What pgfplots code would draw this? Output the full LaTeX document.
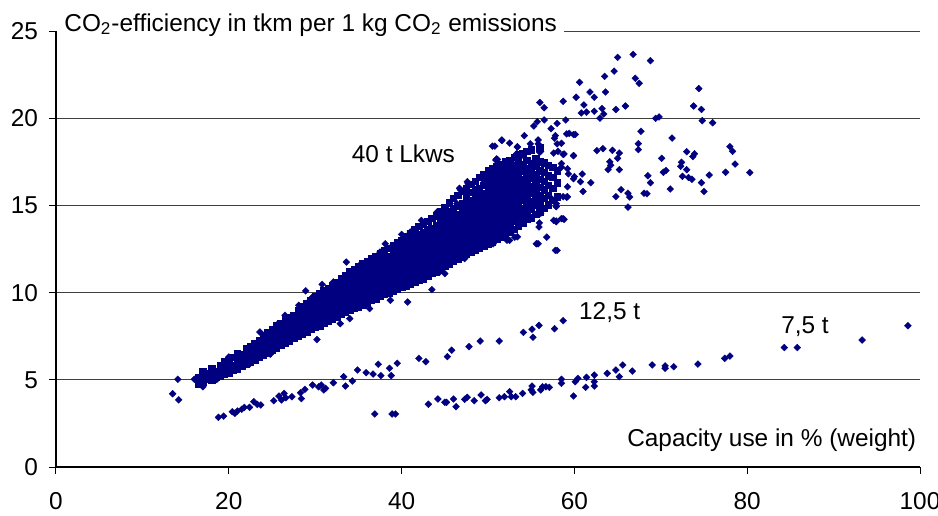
\documentclass[border=0pt]{standalone}
\usepackage{pgfplots}
\pgfplotsset{compat=1.18}
\usepackage{fontspec}
\setmainfont{Liberation Sans}
\definecolor{navy}{RGB}{0,0,128}
\pgfplotsset{pt/.style={only marks, mark=square*, mark size=1.2pt,
    mark options={rotate=45, fill=navy, draw=navy, line width=0.2pt}}}
\begin{document}
\begin{tikzpicture}[font=\fontsize{12.2}{14}\selectfont]
\begin{axis}[
    at={(0,0)}, anchor=south west,
    scale only axis, width=432pt, height=218pt,
    xmin=0, xmax=100, ymin=0, ymax=25,
    xtick={0,20,...,100}, ytick={0,5,...,25},
    axis lines=left, axis line style={-, line width=0.6pt},
    tick align=outside, major tick length=3.5pt,
    tick style={black, line width=0.5pt},
    ymajorgrids, grid style={black!75, line width=0.5pt},
    /pgf/number format/assume math mode=true,
    ticklabel style={font=\fontsize{12.2}{14}\selectfont},
    xticklabel style={yshift=-5.5pt},
    yticklabel style={xshift=-2pt},
    clip mode=individual,
]

% 40 t trucks, dense core, read column by column
\addplot[only marks, mark=square*, mark size=1.6pt,
    mark options={fill=navy, draw=navy, line width=0.2pt}] coordinates {
(16.5,4.75)(16.5,5.15)
(17,4.9)(17,5.3)(17,5.5)
(17.5,5.05)(17.5,5.35)
(18,5.0)(18,5.3)(18,5.65)
(18.5,5.15)(18.5,5.5)
(19,5.2)(19,5.55)(19,5.85)
(19.5,5.35)(19.5,5.7)(19.5,6.05)
(20,5.4)(20,5.75)(20,6.1)
(20.5,5.55)(20.5,5.85)(20.5,6.3)
(21,5.6)(21,5.95)(21,6.25)(21,6.5)
(21.5,5.8)(21.5,6.1)(21.5,6.45)
(22,5.9)(22,6.2)(22,6.5)(22,6.8)
(22.5,6.0)(22.5,6.35)(22.5,6.65)(22.5,6.9)
(23,6.15)(23,6.45)(23,6.8)(23,7.1)
(23.5,6.3)(23.5,6.6)(23.5,6.95)(23.5,7.25)
(24,6.4)(24,6.75)(24,7.05)(24,7.35)(24,7.55)
(24.5,6.55)(24.5,6.85)(24.5,7.2)(24.5,7.5)(24.5,7.7)
(25,6.7)(25,7.0)(25,7.3)(25,7.65)(25,7.9)
(25.5,6.85)(25.5,7.15)(25.5,7.45)(25.5,7.8)(25.5,8.1)
(26,7.0)(26,7.3)(26,7.6)(26,7.95)(26,8.25)
(26.5,7.1)(26.5,7.45)(26.5,7.75)(26.5,8.1)(26.5,8.45)
(27,7.25)(27,7.55)(27,7.9)(27,8.2)(27,8.55)
(27.5,7.4)(27.5,7.7)(27.5,8.0)(27.5,8.35)(27.5,8.7)
(28,7.5)(28,7.85)(28,8.15)(28,8.5)(28,8.8)(28,9.0)
(28.5,7.6)(28.5,7.95)(28.5,8.3)(28.5,8.6)(28.5,8.95)(28.5,9.2)
(29,7.75)(29,8.05)(29,8.4)(29,8.75)(29,9.05)(29,9.4)
(29.5,7.9)(29.5,8.2)(29.5,8.55)(29.5,8.85)(29.5,9.2)(29.5,9.55)
(30,8.0)(30,8.35)(30,8.65)(30,9.0)(30,9.3)(30,9.65)(30,9.8)
(30.5,8.1)(30.5,8.45)(30.5,8.8)(30.5,9.1)(30.5,9.45)(30.5,9.75)(30.5,9.95)
(31,8.25)(31,8.55)(31,8.9)(31,9.25)(31,9.55)(31,9.9)(31,10.1)
(31.5,8.4)(31.5,8.7)(31.5,9.05)(31.5,9.35)(31.5,9.7)(31.5,10.0)(31.5,10.25)
(32,8.5)(32,8.85)(32,9.15)(32,9.5)(32,9.8)(32,10.15)(32,10.4)
(32.5,8.6)(32.5,8.95)(32.5,9.3)(32.5,9.6)(32.5,9.95)(32.5,10.3)(32.5,10.6)
(33,8.75)(33,9.1)(33,9.4)(33,9.75)(33,10.1)(33,10.4)(33,10.8)
(33.5,8.9)(33.5,9.2)(33.5,9.55)(33.5,9.9)(33.5,10.2)(33.5,10.55)(33.5,10.85)(33.5,11.0)
(34,9.0)(34,9.35)(34,9.7)(34,10.0)(34,10.35)(34,10.7)(34,11.0)(34,11.2)
(34.5,9.1)(34.5,9.45)(34.5,9.8)(34.5,10.15)(34.5,10.45)(34.5,10.8)(34.5,11.1)(34.5,11.35)
(35,9.2)(35,9.55)(35,9.9)(35,10.25)(35,10.6)(35,10.9)(35,11.25)(35,11.5)
(35.5,9.3)(35.5,9.65)(35.5,10.0)(35.5,10.35)(35.5,10.7)(35.5,11.05)(35.5,11.35)(35.5,11.65)
(36,9.4)(36,9.75)(36,10.1)(36,10.45)(36,10.8)(36,11.15)(36,11.5)(36,11.8)
(36.5,9.55)(36.5,9.9)(36.5,10.25)(36.5,10.6)(36.5,10.9)(36.5,11.25)(36.5,11.6)(36.5,11.95)
(37,9.65)(37,10.0)(37,10.35)(37,10.7)(37,11.05)(37,11.4)(37,11.75)(37,12.1)
(37.5,9.8)(37.5,10.15)(37.5,10.5)(37.5,10.8)(37.5,11.15)(37.5,11.5)(37.5,11.85)(37.5,12.25)
(38,9.9)(38,10.25)(38,10.6)(38,10.95)(38,11.3)(38,11.65)(38,12.0)(38,12.4)
(38.5,10.0)(38.5,10.35)(38.5,10.7)(38.5,11.05)(38.5,11.4)(38.5,11.75)(38.5,12.1)(38.5,12.55)
(39,10.1)(39,10.45)(39,10.8)(39,11.15)(39,11.5)(39,11.85)(39,12.25)(39,12.7)
(39.5,10.2)(39.5,10.55)(39.5,10.9)(39.5,11.25)(39.5,11.6)(39.5,12.0)(39.5,12.4)(39.5,12.85)
(40,10.3)(40,10.65)(40,11.0)(40,11.35)(40,11.75)(40,12.1)(40,12.5)(40,12.8)(40,13.0)
(40.5,10.4)(40.5,10.75)(40.5,11.1)(40.5,11.5)(40.5,11.85)(40.5,12.2)(40.5,12.6)(40.5,12.95)(40.5,13.2)
(41,10.5)(41,10.85)(41,11.2)(41,11.6)(41,11.95)(41,12.35)(41,12.7)(41,13.05)(41,13.4)
(41.5,10.6)(41.5,10.95)(41.5,11.35)(41.5,11.7)(41.5,12.05)(41.5,12.45)(41.5,12.85)(41.5,13.2)(41.5,13.6)
(42,10.7)(42,11.05)(42,11.45)(42,11.8)(42,12.2)(42,12.55)(42,12.95)(42,13.35)(42,13.8)
(42.5,10.8)(42.5,11.2)(42.5,11.55)(42.5,11.95)(42.5,12.3)(42.5,12.7)(42.5,13.05)(42.5,13.45)(42.5,13.95)
(43,10.95)(43,11.3)(43,11.7)(43,12.05)(43,12.45)(43,12.8)(43,13.2)(43,13.6)(43,14.1)
(43.5,11.1)(43.5,11.45)(43.5,11.8)(43.5,12.2)(43.5,12.55)(43.5,12.95)(43.5,13.3)(43.5,13.7)(43.5,14.25)
(44,11.2)(44,11.55)(44,11.95)(44,12.3)(44,12.7)(44,13.05)(44,13.45)(44,13.85)(44,14.4)
(44.5,11.35)(44.5,11.7)(44.5,12.05)(44.5,12.45)(44.5,12.8)(44.5,13.2)(44.5,13.6)(44.5,14.0)(44.5,14.35)(44.5,14.65)
(45,11.5)(45,11.85)(45,12.2)(45,12.6)(45,12.95)(45,13.3)(45,13.7)(45,14.1)(45,14.5)(45,14.9)
(45.5,11.65)(45.5,12.0)(45.5,12.35)(45.5,12.7)(45.5,13.1)(45.5,13.45)(45.5,13.85)(45.5,14.25)(45.5,14.65)(45.5,15.15)
(46,11.8)(46,12.15)(46,12.5)(46,12.85)(46,13.25)(46,13.6)(46,14.0)(46,14.4)(46,14.8)(46,15.4)
(46.5,11.9)(46.5,12.3)(46.5,12.65)(46.5,13.0)(46.5,13.35)(46.5,13.75)(46.5,14.1)(46.5,14.5)(46.5,14.95)(46.5,15.6)
(47,12.05)(47,12.4)(47,12.8)(47,13.15)(47,13.5)(47,13.9)(47,14.25)(47,14.65)(47,15.1)(47,15.8)
(47.5,12.2)(47.5,12.55)(47.5,12.9)(47.5,13.3)(47.5,13.65)(47.5,14.0)(47.5,14.4)(47.5,14.8)(47.5,15.2)(47.5,15.6)(47.5,16.0)
(48,12.3)(48,12.7)(48,13.05)(48,13.4)(48,13.8)(48,14.15)(48,14.55)(48,14.9)(48,15.3)(48,15.75)(48,16.2)
(48.5,12.45)(48.5,12.8)(48.5,13.2)(48.5,13.55)(48.5,13.9)(48.5,14.3)(48.5,14.65)(48.5,15.05)(48.5,15.45)(48.5,15.9)(48.5,16.4)
(49,12.55)(49,12.95)(49,13.3)(49,13.7)(49,14.05)(49,14.4)(49,14.8)(49,15.2)(49,15.6)(49,16.0)(49,16.6)
(49.5,12.7)(49.5,13.05)(49.5,13.45)(49.5,13.8)(49.5,14.2)(49.5,14.55)(49.5,14.95)(49.5,15.3)(49.5,15.7)(49.5,16.15)(49.5,16.8)
(50,12.8)(50,13.2)(50,13.55)(50,13.95)(50,14.3)(50,14.7)(50,15.05)(50,15.45)(50,15.85)(50,16.3)(50,16.65)(50,17.0)
(50.5,12.9)(50.5,13.3)(50.5,13.7)(50.5,14.05)(50.5,14.45)(50.5,14.8)(50.5,15.2)(50.5,15.6)(50.5,16.0)(50.5,16.4)(50.5,16.8)(50.5,17.1)
(51,13.05)(51,13.45)(51,13.8)(51,14.2)(51,14.55)(51,14.95)(51,15.3)(51,15.7)(51,16.1)(51,16.5)(51,16.9)(51,17.25)
(51.5,13.2)(51.5,13.55)(51.5,13.95)(51.5,14.3)(51.5,14.7)(51.5,15.05)(51.5,15.45)(51.5,15.85)(51.5,16.25)(51.5,16.6)(51.5,17.0)(51.5,17.35)
(52,13.3)(52,13.7)(52,14.05)(52,14.45)(52,14.85)(52,15.2)(52,15.6)(52,16.0)(52,16.35)(52,16.75)(52,17.1)(52,17.5)
(52.5,13.5)(52.5,13.85)(52.5,14.25)(52.5,14.6)(52.5,15.0)(52.5,15.35)(52.5,15.75)(52.5,16.1)(52.5,16.5)(52.5,16.9)(52.5,17.25)(52.5,17.6)
(53,13.65)(53,14.1)(53,14.5)(53,14.9)(53,15.3)(53,15.7)(53,16.1)(53,16.5)(53,16.9)(53,17.3)(53,17.75)
(53.5,13.8)(53.5,14.25)(53.5,14.7)(53.5,15.1)(53.5,15.5)(53.5,15.9)(53.5,16.3)(53.5,16.7)(53.5,17.1)(53.5,17.5)(53.5,17.9)
(54,14.0)(54,14.45)(54,14.85)(54,15.3)(54,15.7)(54,16.1)(54,16.5)(54,16.95)(54,17.35)(54,18.0)
(54.5,14.2)(54.5,14.65)(54.5,15.1)(54.5,15.5)(54.5,15.9)(54.5,16.3)(54.5,16.75)(54.5,17.15)(54.5,17.6)(54.5,18.1)
(55,14.3)(55,14.8)(55,15.25)(55,15.7)(55,16.1)(55,16.55)(55,16.95)(55,17.4)(55,18.2)
(55.5,14.5)(55.5,15.0)(55.5,15.45)(55.5,15.9)(55.5,16.35)(55.5,16.8)(55.5,17.25)(55.5,17.7)
(56,14.6)(56,15.15)(56,15.6)(56,16.05)(56,16.5)(56,17.0)(56,17.5)(56,18.3)
(56.5,14.85)(56.5,15.4)(56.5,15.9)(56.5,16.4)(56.5,16.9)(56.5,17.45)
(57,15.05)(57,15.6)(57,16.15)(57,16.7)(57,17.3)
(57.5,15.3)(57.5,16.0)(57.5,16.6)(57.5,17.2)
(58,15.5)(58,16.3)(58,17.0)
};

% 40 t trucks, loose points round the core
\addplot[pt] coordinates {
(13.5,4.2)(14.2,3.85)(14.1,5.03)(16.0,5.03)(17.0,4.6)(17.6,5.2)(18.6,5.02)
(19.1,5.55)(20.0,6.31)(21.3,6.47)(22.1,6.7)(22.4,5.9)(23.0,6.54)(23.6,7.74)
(23.8,7.27)(24.3,7.46)(24.8,6.47)(25.5,7.65)(25.7,8.22)(26.4,8.03)(26.5,8.7)
(27.5,8.32)(28.1,9.27)(28.6,8.99)(28.9,10.1)(29.4,9.56)(29.7,9.75)(30.2,7.31)
(30.8,10.47)(32.1,10.61)(33.6,11.75)(35.2,11.6)(37.5,12.32)(38.1,12.8)
(38.7,12.58)(40.0,13.34)(41.0,13.47)(42.3,14.14)(44.1,14.52)(44.1,14.62)
(46.4,15.1)(46.8,15.9)(47.7,16.24)(47.6,16.36)(46.7,15.98)(49.8,16.53)
(51.0,17.67)(53.3,17.96)(34.0,8.51)(32.9,8.22)(36.3,9.08)(38.7,9.56)
(40.7,9.46)(43.5,10.17)(45.0,11.09)(44.4,11.18)(47.3,11.95)(48.7,12.42)
(50.6,12.8)(53.1,13.18)(54.1,14.04)(55.6,12.8)(57.8,12.42)(55.9,13.76)
(56.0,14.8)(57.6,14.14)(58.7,14.24)(52.2,13.0)(56.8,13.18)(57.9,14.1)
(58.8,14.2)(59.2,15.5)(55.8,12.8)(58.0,12.42)
(51.6,18.72)(50.5,18.4)(52.5,18.57)(54.2,19.0)(53.4,18.34)(51.1,17.63)
(52.0,17.34)(52.7,17.48)(53.7,17.76)(49.5,16.43)(51.0,16.62)(54.9,18.53)
(55.8,18.53)(56.0,18.05)(55.4,17.57)(56.8,17.29)(57.6,18.0)(58.7,17.92)
(59.9,17.86)(57.8,19.0)(59.1,19.1)(59.9,19.06)(58.0,18.53)(58.5,17.19)
(59.3,16.81)(59.9,16.53)(57.2,15.47)(59.1,15.47)(57.9,15.1)(58.5,14.24)
(51.6,18.75)(50.8,18.4)(53.4,18.37)(55.3,19.55)(55.7,19.8)(56.5,19.9)
(57.3,19.4)(58.0,19.7)(59.0,19.9)(57.7,18.85)(58.5,18.56)(58.1,18.1)
(56.9,17.26)(55.8,18.75)(56.1,18.1)(58.5,17.4)(59.2,17.1)(60.0,16.65)
(60.7,16.36)(59.2,16.07)(58.7,15.5)(57.9,14.93)(57.9,14.07)(56.1,14.55)
(55.95,14.0)(53.8,13.97)(53.4,13.2)(52.5,13.0)(49.8,16.55)(51.9,16.65)
(50.9,17.6)(52.7,17.4)(53.8,17.9)(55.0,17.2)(54.2,16.45)
};

% 40 t trucks, upper scatter
\addplot[pt] coordinates {
(65.0,23.49)(66.8,23.66)(68.8,23.3)(60.6,22.06)(63.5,22.4)(64.6,22.7)
(67.05,22.29)(67.5,22.0)(61.8,21.5)(62.3,21.2)(63.6,21.5)(60.2,21.2)
(58.7,20.97)(56.0,20.9)(56.5,20.6)(61.1,20.76)(60.8,20.3)(61.4,20.35)
(62.3,20.4)(63.2,20.55)(63.4,20.24)(62.95,20.0)(64.8,20.5)(65.9,20.7)
(74.4,21.7)(73.8,20.7)(74.7,20.5)(74.8,19.86)(76.0,19.74)(69.4,19.99)
(69.8,20.07)(67.7,19.25)(71.3,18.86)(67.4,18.54)(67.4,18.2)(62.6,18.14)
(63.3,18.25)(64.4,18.16)(65.2,18.0)(65.0,17.7)(64.1,17.5)(64.2,17.3)
(63.9,17.05)(65.2,17.05)(70.1,17.7)(70.6,17.0)(70.3,16.9)(73.0,18.08)
(73.9,17.96)(73.7,17.8)(72.4,17.47)(72.3,17.24)(73.0,17.05)(72.5,16.67)
(73.2,16.6)(73.6,16.5)(75.6,16.74)(74.7,16.3)(75.0,15.8)(78.0,18.37)
(78.3,18.1)(78.6,17.37)(77.5,16.9)(80.3,16.88)(71.1,15.94)(68.5,16.7)
(68.8,16.3)(68.06,15.7)(68.4,15.67)(65.4,15.9)(64.8,15.5)(66.2,15.7)
(66.4,15.48)(66.2,14.9)(61.9,16.3)(60.9,16.8)(61.0,15.8)(60.1,19.07)
(59.4,19.13)(59.9,17.85)(58.8,17.95)
};

% 12,5 t
\addplot[pt] coordinates {
(18.8,2.85)(19.4,2.92)(20.4,3.17)(20.7,3.08)(21.0,3.21)(21.5,3.31)(21.8,3.42)
(22.4,3.42)(22.9,3.74)(23.3,3.59)(23.7,3.56)(25.2,3.8)(25.8,4.07)(26.1,3.84)
(26.4,4.22)(26.6,3.97)(27.3,4.03)(28.3,4.26)(28.4,3.92)(28.8,4.45)(29.7,4.7)
(30.4,4.6)(30.7,4.7)(31.0,4.42)(31.2,4.51)(32.1,4.83)(33.3,5.18)(33.5,4.64)
(34.3,4.93)(34.9,5.56)(35.9,5.41)(36.7,5.33)(37.3,5.89)(37.6,5.24)(38.6,5.66)
(38.8,5.24)(39.5,5.95)(42.0,6.23)(42.8,6.04)(45.3,6.33)(45.8,6.7)(47.8,6.9)
(49.1,7.22)(51.3,7.22)(54.1,7.72)(55.1,7.9)(55.2,7.44)(55.9,8.12)(57.7,7.93)
(58.7,8.39)
};

% 7,5 t
\addplot[pt] coordinates {
(36.9,3.04)(38.9,3.04)(39.3,3.04)(43.1,3.6)(44.2,3.9)(45.0,3.71)(45.2,3.71)
(46.0,3.9)(46.3,3.46)(47.3,3.88)(47.6,4.0)(48.4,3.8)(49.2,4.13)(49.7,3.8)
(49.9,3.88)(51.3,3.97)(51.9,4.03)(52.5,4.32)(52.7,4.03)(53.2,4.03)(54.0,4.22)
(55.0,4.42)(55.1,4.64)(55.2,4.28)(56.1,4.42)(56.3,4.6)(56.7,4.6)(57.1,4.57)
(58.5,5.03)(58.5,4.8)(59.9,4.07)(60.1,4.89)(60.4,5.08)(61.3,4.57)(61.4,5.14)
(62.3,4.89)(62.3,4.64)(62.3,5.27)(63.8,5.37)(64.8,5.56)(65.2,5.18)(65.6,5.85)
(66.7,5.5)(69.0,5.85)(70.5,5.8)(70.5,5.66)(71.5,5.75)(74.3,5.9)(77.4,6.23)
(78.0,6.36)(84.3,6.85)(85.8,6.85)(93.3,7.28)(98.6,8.1)
};

\node[anchor=base west, fill=white, inner sep=0pt, inner xsep=3.5pt, xshift=0.5pt]
    at (axis cs:0,25) {CO\textsubscript{2}-efficiency in tkm per 1 kg CO\textsubscript{2} emissions};
\node[anchor=base west, inner sep=0pt] at (axis cs:34.2,17.45) {40 t Lkws};
\node[anchor=base west, inner sep=0pt] at (axis cs:60.5,8.47) {12,5 t};
\node[anchor=base west, inner sep=0pt] at (axis cs:83.9,7.65) {7,5 t};
\node[anchor=base east, inner sep=0pt] at (axis cs:99.6,1.15) {Capacity use in \% (weight)};
\end{axis}
\pgfresetboundingbox
\path (-28pt,-24pt) rectangle (441pt,233.5pt);
\end{tikzpicture}
\end{document}
